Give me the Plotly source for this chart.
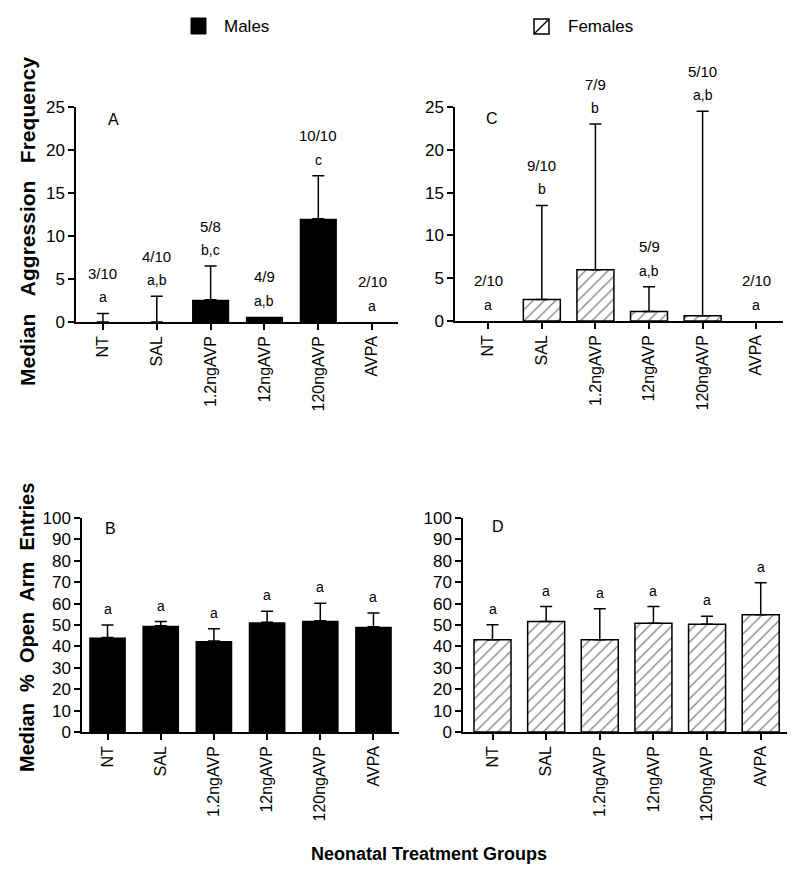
import plotly.graph_objects as go

# ---------------- data ----------------
groups = ["NT", "SAL", "1.2ngAVP", "12ngAVP", "120ngAVP", "AVPA"]

male_aggr = [0, 0, 2.6, 0.6, 12, 0]
male_aggr_upper = [1, 3, 6.5, 0.6, 17, 0]
male_aggr_frac = ["3/10", "4/10", "5/8", "4/9", "10/10", "2/10"]
male_aggr_sig = ["a", "a,b", "b,c", "a,b", "c", "a"]

female_aggr = [0, 2.5, 6, 1.1, 0.6, 0]
female_aggr_upper = [0, 13.5, 23, 4, 24.5, 0]
female_aggr_frac = ["2/10", "9/10", "7/9", "5/9", "5/10", "2/10"]
female_aggr_sig = ["a", "b", "b", "a,b", "a,b", "a"]

male_open = [44.2, 49.6, 42.5, 51.3, 52, 49.2]
male_open_upper = [50, 51.6, 48.2, 56.4, 60.2, 55.6]
male_open_sig = ["a", "a", "a", "a", "a", "a"]

female_open = [43.1, 51.6, 43.1, 50.8, 50.4, 54.8]
female_open_upper = [50.1, 58.6, 57.6, 58.6, 54.1, 69.7]
female_open_sig = ["a", "a", "a", "a", "a", "a"]

# ---------------- layout helpers ----------------
# the page body has an 8px margin, so the figure is drawn 8px in from the corner
OFF = 8
W, H = 800 - OFF, 877 - OFF
FONT = "Liberation Sans, Arial, Helvetica, sans-serif"


def px_x(x):
    return (x - OFF) / W


def px_y(y):
    return 1 - (y - OFF) / H


fig = go.Figure()

panels = [
    ("A", male_aggr, male_aggr_upper, False, male_aggr_frac, male_aggr_sig),
    ("C", female_aggr, female_aggr_upper, True, female_aggr_frac, female_aggr_sig),
    ("B", male_open, male_open_upper, False, None, male_open_sig),
    ("D", female_open, female_open_upper, True, None, female_open_sig),
]
axis_ids = {"A": ("x", "y"), "C": ("x2", "y2"), "B": ("x3", "y3"), "D": ("x4", "y4")}

for key, vals, upper, female, fracs, sigs in panels:
    xa, ya = axis_ids[key]
    if female:
        marker = dict(color="white",
                      line=dict(color="black", width=[1.5 if v > 0 else 0 for v in vals]),
                      pattern=dict(shape="/", fgcolor="black", bgcolor="white",
                                   size=8, solidity=0.16))
    else:
        marker = dict(color="black", line=dict(color="black", width=0))
    fig.add_trace(go.Bar(
        x=groups, y=vals, xaxis=xa, yaxis=ya, width=0.69,
        marker=marker, showlegend=False, hoverinfo="x+y",
    ))
    # one-sided (upper) error bars, only where an error range exists
    ex = [g for g, v, u in zip(groups, vals, upper) if u - v > 1e-9]
    ev = [v for v, u in zip(vals, upper) if u - v > 1e-9]
    ep = [u - v for v, u in zip(vals, upper) if u - v > 1e-9]
    fig.add_trace(go.Scatter(
        x=ex, y=ev, xaxis=xa, yaxis=ya, mode="markers",
        marker=dict(size=1, opacity=0), showlegend=False, hoverinfo="skip",
        error_y=dict(type="data", symmetric=False, array=ep,
                     arrayminus=[0] * len(ep),
                     color="black", thickness=1.5, width=6),
    ))
    for g, u, s in zip(groups, upper, sigs):
        fig.add_annotation(x=g, y=u, xref=xa, yref=ya, text=s, showarrow=False,
                           yshift=16, yanchor="middle",
                           font=dict(family=FONT, size=14, color="black"))
    if fracs:
        for g, u, f in zip(groups, upper, fracs):
            fig.add_annotation(x=g, y=u, xref=xa, yref=ya, text=f, showarrow=False,
                               yshift=40, yanchor="middle",
                               font=dict(family=FONT, size=15, color="black"))

# panel letters
for key, xx, yy in [("A", 0.19, 23.5), ("C", 0.07, 23.7), ("B", 0.06, 94.9), ("D", 0.1, 95.8)]:
    xa, ya = axis_ids[key]
    fig.add_annotation(x=xx, y=yy, xref=xa, yref=ya, text=key, showarrow=False,
                       font=dict(family=FONT, size=16, color="black"))

common_x = dict(type="category", showgrid=False, zeroline=False, showline=True,
                linecolor="black", linewidth=1.5, ticks="outside", ticklen=6,
                tickwidth=1.5, tickcolor="black", tickangle=-90, automargin=False,
                tickfont=dict(family=FONT, size=16, color="black"))
common_y = dict(showgrid=False, zeroline=False, showline=True, linecolor="black",
                linewidth=1.5, ticks="outside", ticklen=6, tickwidth=1.5,
                tickcolor="black", automargin=False,
                tickfont=dict(family=FONT, size=17, color="black"))

fig.update_layout(
    width=W, height=H, autosize=False,
    margin=dict(l=0, r=0, t=0, b=0, pad=0),
    paper_bgcolor="white", plot_bgcolor="white",
    font=dict(family=FONT, color="black"),
    xaxis=dict(common_x, domain=[px_x(76), px_x(398)], range=[-0.50, 5.48], anchor="y"),
    yaxis=dict(common_y, domain=[px_y(322), px_y(107)], range=[0, 25], dtick=5, anchor="x"),
    xaxis2=dict(common_x, domain=[px_x(455), px_x(783)], range=[-0.62, 5.5], anchor="y2"),
    yaxis2=dict(common_y, domain=[px_y(321), px_y(107)], range=[0, 25], dtick=5, anchor="x2"),
    xaxis3=dict(common_x, domain=[px_x(82), px_x(399)], range=[-0.48, 5.48], anchor="y3"),
    yaxis3=dict(common_y, domain=[px_y(732), px_y(518)], range=[0, 100], dtick=10, anchor="x3"),
    xaxis4=dict(common_x, domain=[px_x(463), px_x(787)], range=[-0.55, 5.49], anchor="y4"),
    yaxis4=dict(common_y, domain=[px_y(732), px_y(518)], range=[0, 100], dtick=10, anchor="x4"),
)

# axis titles
sp = "\u00a0\u00a0\u00a0"
fig.add_annotation(x=px_x(27), y=px_y(222), xref="paper", yref="paper",
                   text="<b>Median" + sp + "Aggression" + sp + "Frequency</b>",
                   textangle=-90, showarrow=False, xanchor="center", yanchor="middle",
                   font=dict(family=FONT, size=21, color="black"))
fig.add_annotation(x=px_x(27), y=px_y(628), xref="paper", yref="paper",
                   text="<b>Median\u00a0 %\u00a0 Open\u00a0 Arm\u00a0 Entries</b>",
                   textangle=-90, showarrow=False, xanchor="center", yanchor="middle",
                   font=dict(family=FONT, size=20, color="black"))
fig.add_annotation(x=px_x(429), y=px_y(854), xref="paper", yref="paper",
                   text="<b>Neonatal Treatment Groups</b>", showarrow=False,
                   xanchor="center", yanchor="middle",
                   font=dict(family=FONT, size=18, color="black"))

# legend keys
fig.add_shape(type="rect", xref="paper", yref="paper",
              x0=px_x(191), x1=px_x(206), y0=px_y(34), y1=px_y(18),
              fillcolor="black", line=dict(color="black", width=1))
fig.add_annotation(x=px_x(222), y=px_y(27), xref="paper", yref="paper", text="Males",
                   showarrow=False, xanchor="left", yanchor="middle",
                   font=dict(family=FONT, size=17, color="black"))
fig.add_shape(type="rect", xref="paper", yref="paper",
              x0=px_x(534), x1=px_x(549), y0=px_y(34), y1=px_y(19),
              fillcolor="white", line=dict(color="black", width=1.5))
fig.add_shape(type="line", xref="paper", yref="paper",
              x0=px_x(534), x1=px_x(549), y0=px_y(34), y1=px_y(19),
              line=dict(color="black", width=1.5))
fig.add_annotation(x=px_x(566), y=px_y(27), xref="paper", yref="paper", text="Females",
                   showarrow=False, xanchor="left", yanchor="middle",
                   font=dict(family=FONT, size=17, color="black"))

fig.write_html("out.html")
